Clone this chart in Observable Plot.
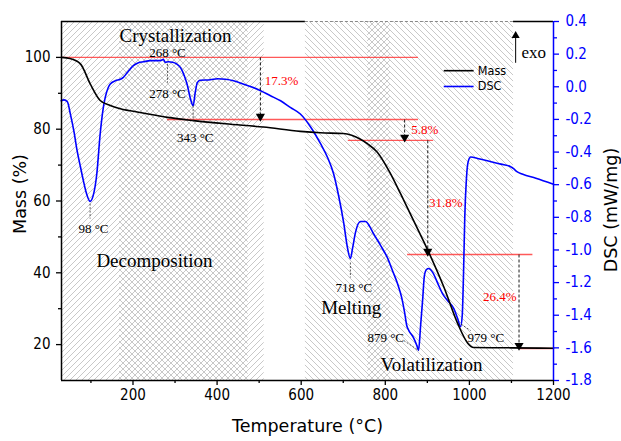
<!DOCTYPE html>
<html><head><meta charset="utf-8">
<script src="https://cdn.jsdelivr.net/npm/d3@7"></script>
<script src="https://cdn.jsdelivr.net/npm/@observablehq/plot@0.6"></script>
<style>
html,body{margin:0;padding:0;background:#fff;}
</style>
</head><body><div id="chart"></div>
<script>
// ---------- data ----------
const massT = [30,50,75,98,122,146,170,220,282,344,420,510,598,646,700,720,741,758,781,812,836,867,901,939,972,996,1010,1100,1200];
const massV = [100,99.7,98.2,92.7,88,86.6,85.7,84.6,83.3,82.4,81.5,80.6,79.4,79.0,78.8,78.3,77.2,75.9,73.6,67.7,62.1,54.6,46.3,36.1,25.9,20.4,19.2,19.1,19.0];

const dscT = [29.3,36,44,51,60,67,75,82,89,98,105,114,122,129,134,141,146,158,170,177,186,201,213,225,241,258,267,272,277,284,294,303,313,322,329,336,343,348,353,360,384,401,420,439,467,496,527,551,575,598,622,646,663,677,689,701,710,717,722,729,741,753,763,772,789,806,817,829,839,846,851,856,867,875,879,884,889,893,898,903,913,925,936,948,963,972,979,983,986,989,993,997,1003,1022,1051,1075,1098,1105,1113,1127,1158,1200];
const dscV = [-0.086,-0.08,-0.092,-0.166,-0.28,-0.39,-0.49,-0.575,-0.65,-0.702,-0.67,-0.533,-0.288,-0.135,-0.065,-0.006,0.017,0.037,0.046,0.057,0.086,0.129,0.147,0.153,0.16,0.16,0.162,0.168,0.15,0.153,0.15,0.141,0.117,0.068,0.012,-0.067,-0.116,-0.036,0.025,0.04,0.043,0.049,0.046,0.037,0.012,-0.015,-0.055,-0.086,-0.128,-0.167,-0.245,-0.349,-0.435,-0.533,-0.668,-0.833,-0.986,-1.053,-0.992,-0.894,-0.826,-0.826,-0.857,-0.9,-0.973,-1.053,-1.126,-1.206,-1.292,-1.384,-1.463,-1.494,-1.537,-1.586,-1.616,-1.463,-1.298,-1.157,-1.12,-1.114,-1.139,-1.206,-1.267,-1.31,-1.359,-1.42,-1.47,-1.40,-1.15,-0.80,-0.56,-0.46,-0.43,-0.441,-0.459,-0.474,-0.49,-0.502,-0.52,-0.536,-0.56,-0.597];

// temperature ranges of the shaded stages
const stageStart = [30, 168, 610, 758];
const stageEnd   = [512, 474, 1105, 812];
const stageNames = ["Decomposition", "Crystallization", "Volatilization", "Melting"];

// mass loss steps (levels in %)
const stepLevels = [100, 82.7, 76.9, 45.1, 18.9];
const stepLineStart = [30, 282, 712, 853, 1120];
const stepLineEnd = [879, 879, 915, 1151, 1200];
const stepArrowT = [503, 846, 901, 1118];
const stepLabels = ["17.3%", "5.8%", "31.8%", "26.4%"];
const stepLabelT = [553, 894, 944, 1072];
const stepLabelMass = [93.5, 79.9, 59.6, 33.2];

// peak temperature labels (positions in T / DSC units)
const peakLabels = ["268 °C", "278 °C", "343 °C", "98 °C", "718 °C", "879 °C", "979 °C"];
const peakLabelT = [282, 282, 348, 106, 725, 801, 1039];
const peakLabelDsc = [0.208, -0.043, -0.312, -0.869, -1.23, -1.537, -1.537];
// leader lines
const leaderT1 = [282, 343, 98, 717, 844, 980];
const leaderD1 = [0.141, -0.116, -0.716, -1.077, -1.555, -1.455];
const leaderT2 = [282, 343, 98, 717, 879, 1003];
const leaderD2 = [0.025, -0.208, -0.808, -1.169, -1.616, -1.494];

// stage labels
const stageLabelT = [251, 301, 910, 719];
const stageLabelDsc = [-1.065, 0.312, -1.702, -1.353];

// axis ticks
const tTicks = [200, 400, 600, 800, 1000, 1200];
const tMinor = [100, 300, 500, 700, 900, 1100];
const massTicks = [20, 40, 60, 80, 100];
const massMinor = [30, 50, 70, 90];
const dscTicks = [0.4, 0.2, 0.0, -0.2, -0.4, -0.6, -0.8, -1.0, -1.2, -1.4, -1.6, -1.8];
const dscMinor = [0.3, 0.1, -0.1, -0.3, -0.5, -0.7, -0.9, -1.1, -1.3, -1.5, -1.7];

// ---------- helpers ----------
const MASS_MIN = 10, MASS_MAX = 110, DSC_MIN = -1.8, DSC_MAX = 0.4;
const toY = d => MASS_MIN + (d - DSC_MIN) / (DSC_MAX - DSC_MIN) * (MASS_MAX - MASS_MIN);
const fromY = y => DSC_MIN + (y - MASS_MIN) / (MASS_MAX - MASS_MIN) * (DSC_MAX - DSC_MIN);
const fmtDsc = y => { const v = Math.round(fromY(y) * 10) / 10; return (v === 0 ? 0 : v).toFixed(1); };

const SANS = "'DejaVu Sans Condensed', 'DejaVu Sans', Tahoma, sans-serif";
const SANS_WIDE = "'DejaVu Sans', Verdana, sans-serif";
const SERIF = "'Liberation Serif', 'Times New Roman', serif";
const BLUE = "#0000ff";
const RED = "#ff0000";

const mass = massT.map((t, i) => ({t, v: massV[i]}));
const dsc = dscT.map((t, i) => ({t, v: toY(dscV[i])}));
const stages = stageStart.map((s, i) => ({x1: s, x2: stageEnd[i], name: stageNames[i]}));
const stepLines = stepLevels.map((y, i) => ({y, x1: stepLineStart[i], x2: stepLineEnd[i]}));
const stepArrows = stepArrowT.map((t, i) => ({t, y1: stepLevels[i], y2: stepLevels[i + 1]}));
const stepText = stepLabels.map((s, i) => ({s, t: stepLabelT[i], y: stepLabelMass[i]}));
const peaks = peakLabels.map((s, i) => ({s, t: peakLabelT[i], y: toY(peakLabelDsc[i])}));
const leaders = leaderT1.map((t, i) => ({x1: t, y1: toY(leaderD1[i]), x2: leaderT2[i], y2: toY(leaderD2[i])}));
const stageText = stageNames.map((s, i) => ({s, t: stageLabelT[i], y: toY(stageLabelDsc[i])}));

const legendItems = ["Mass", "DSC"];
const legendColors = ["#000", BLUE];
const legendY = [96.3, 91.9];
const legend = legendItems.map((s, i) => ({s, y: legendY[i], c: legendColors[i]}));

const hatchFwd = stages.filter((d, i) => i === 0 || i === 3);
const hatchBack = stages.filter((d, i) => i === 1 || i === 2);
const volat = stages[2];

const chart = Plot.plot({
  width: 621, height: 441,
  marginLeft: 61, marginRight: 68, marginTop: 21, marginBottom: 61,
  x: {domain: [30, 1200]},
  y: {domain: [MASS_MIN, MASS_MAX]},
  style: {fontFamily: SANS, fontSize: "15px", color: "#000", background: "#fff", overflow: "visible"},
  marks: [
    // hatched stages
    Plot.rect(hatchFwd, {x1: "x1", x2: "x2", fill: "url(#hatchFwd)"}),
    Plot.rect(hatchBack, {x1: "x1", x2: "x2", fill: "url(#hatchBack)"}),
    // red level lines
    Plot.ruleY(stepLines, {y: "y", x1: "x1", x2: "x2", stroke: "#ff3030", strokeWidth: 1.4, strokeOpacity: 0.8}),
    // curves
    Plot.line(dsc, {x: "t", y: "v", stroke: BLUE, strokeWidth: 1.6, curve: "monotone-x"}),
    Plot.line(mass, {x: "t", y: "v", stroke: "#000", strokeWidth: 1.6, curve: "monotone-x"}),
    // step arrows
    Plot.link(stepArrows, {x1: "t", x2: "t", y1: "y1", y2: "y2", stroke: "#000", strokeWidth: 0.9, strokeDasharray: "3,2"}),
    Plot.dot(stepArrows, {x: "t", y: "y2", symbol: "triangle", r: 3.4, rotate: 180, fill: "#000", stroke: "none", dy: -3}),
    Plot.text(stepText, {x: "t", y: "y", text: "s", fill: RED, fontFamily: SERIF, fontSize: 13}),
    // peak labels + leaders
    Plot.link(leaders, {x1: "x1", y1: "y1", x2: "x2", y2: "y2", stroke: "#333", strokeWidth: 0.8, strokeDasharray: "2,1.5"}),
    Plot.text(peaks, {x: "t", y: "y", text: "s", fill: "#000", fontFamily: SERIF, fontSize: 13}),
    Plot.text(stageText, {x: "t", y: "y", text: "s", fill: "#000", fontFamily: SERIF, fontSize: 19}),
    // exo arrow
    Plot.link([0], {x1: 1110, x2: 1110, y1: toY(0.147), y2: toY(0.320), stroke: "#000", strokeWidth: 1}),
    Plot.dot([0], {x: 1110, y: toY(0.331), symbol: "triangle", r: 3, fill: "#000", stroke: "none", dy: 3}),
    Plot.text(["exo"], {x: 1153, y: toY(0.208), text: d => d, fontFamily: SERIF, fontSize: 17}),
    // legend
    Plot.link(legend, {x1: 939, x2: 1010, y1: "y", y2: "y", stroke: "c", strokeWidth: 1.6}),
    Plot.text(legend, {x: 1020, y: "y", text: "s", textAnchor: "start", fontSize: 12.5}),
    // frame
    Plot.ruleX([30], {stroke: "#000", strokeWidth: 1.5}),
    Plot.ruleY([MASS_MIN], {stroke: "#000", strokeWidth: 1.5}),
    Plot.ruleY([MASS_MAX], {x1: 30, x2: volat.x1, stroke: "#000", strokeWidth: 1.5}),
    Plot.ruleY([MASS_MAX], {x1: volat.x1, x2: volat.x2, stroke: "#888", strokeWidth: 1.2, strokeDasharray: "3,2"}),
    Plot.ruleY([MASS_MAX], {x1: volat.x2, x2: 1200, stroke: "#000", strokeWidth: 1.5}),
    Plot.ruleX([1200], {stroke: BLUE, strokeWidth: 1.5}),
    // axes
    Plot.axisX({ticks: tTicks, tickSize: 5, tickPadding: 4, label: null, tickFormat: d3.format("d"), strokeWidth: 1.3}),
    Plot.axisX({ticks: tMinor, tickSize: 3, label: null, tickFormat: () => "", strokeWidth: 1.3}),
    Plot.axisY({ticks: massTicks, tickSize: 5, tickPadding: 6, label: null, strokeWidth: 1.3}),
    Plot.axisY({ticks: massMinor, tickSize: 3, label: null, tickFormat: () => "", strokeWidth: 1.3}),
    Plot.axisY({anchor: "right", ticks: dscTicks.map(toY), tickSize: 5, tickPadding: 7, label: null, tickFormat: fmtDsc, color: BLUE, strokeWidth: 1.3}),
    Plot.axisY({anchor: "right", ticks: dscMinor.map(toY), tickSize: 3, label: null, tickFormat: () => "", color: BLUE, strokeWidth: 1.3}),
    // axis titles
    Plot.text(["Temperature (°C)"], {frameAnchor: "bottom", text: d => d, dy: 51, fontFamily: SANS_WIDE, fontSize: 17.5, textAnchor: "middle"}),
    Plot.text(["Mass (%)"], {frameAnchor: "left", text: d => d, rotate: -90, dx: -41, dy: -7, fontFamily: SANS_WIDE, fontSize: 17.5, textAnchor: "middle", lineAnchor: "middle"}),
    Plot.text(["DSC (mW/mg)"], {frameAnchor: "right", text: d => d, rotate: -90, dx: 58, dy: 9, fontFamily: SANS_WIDE, fontSize: 17.5, textAnchor: "middle", lineAnchor: "middle"})
  ]
});

const defs = `<defs>
<pattern id="hatchFwd" patternUnits="userSpaceOnUse" width="6" height="6">
<path d="M-1,1 l2,-2 M0,6 l6,-6 M5,7 l2,-2" stroke="#c2c2c2" stroke-width="0.9"/></pattern>
<pattern id="hatchBack" patternUnits="userSpaceOnUse" width="6" height="6">
<path d="M-1,5 l2,2 M0,0 l6,6 M5,-1 l2,2" stroke="#c2c2c2" stroke-width="0.9"/></pattern>
</defs>`;
chart.insertAdjacentHTML("afterbegin", defs);
document.getElementById("chart").appendChild(chart);
</script>
</body></html>
